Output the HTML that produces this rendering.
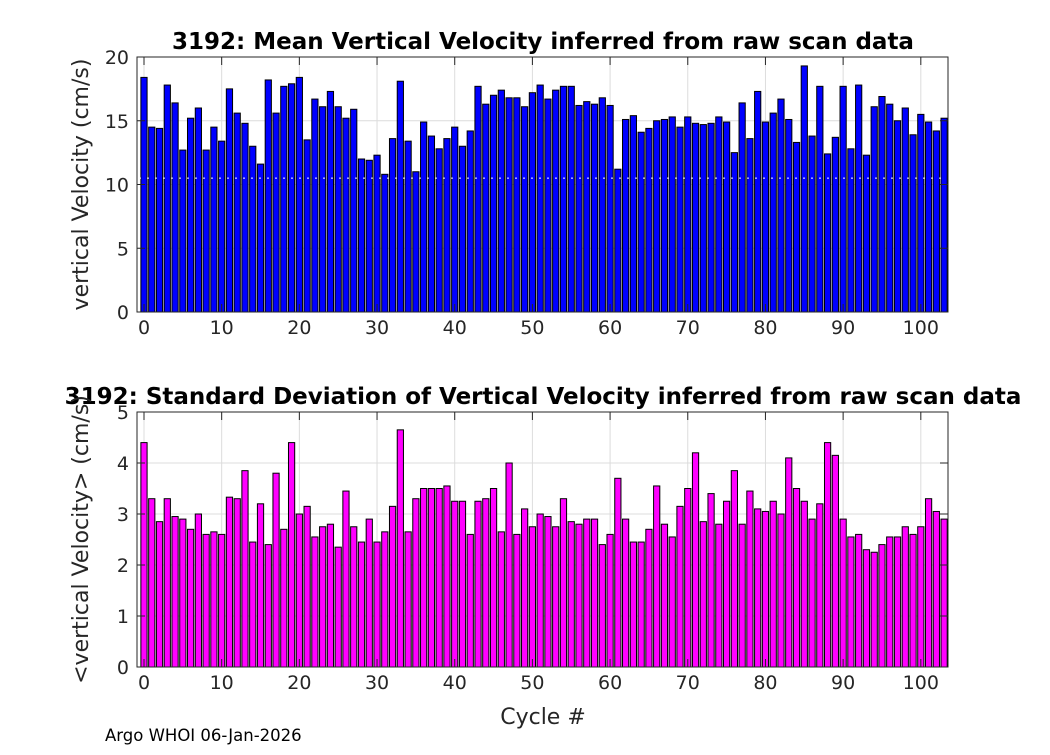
<!DOCTYPE html>
<html><head><meta charset="utf-8"><style>
body{margin:0;background:#fff;font-family:"Liberation Sans","DejaVu Sans",sans-serif}
</style></head><body>
<svg id="c" width="1050" height="750" xmlns="http://www.w3.org/2000/svg" font-family="DejaVu Sans, Liberation Sans, sans-serif"></svg>
<script>
const meanVals=[18.4,14.5,14.4,17.8,16.4,12.7,15.2,16.0,12.7,14.5,13.4,17.5,15.6,14.8,13.0,11.6,18.2,15.6,17.7,17.9,18.4,13.5,16.7,16.1,17.3,16.1,15.2,15.9,12.0,11.9,12.3,10.8,13.6,18.1,13.4,11.0,14.9,13.8,12.8,13.6,14.5,13.0,14.2,17.7,16.3,17.0,17.4,16.8,16.8,16.1,17.2,17.8,16.7,17.4,17.7,17.7,16.2,16.5,16.3,16.8,16.2,11.2,15.1,15.4,14.1,14.4,15.0,15.1,15.3,14.5,15.3,14.8,14.7,14.8,15.3,14.9,12.5,16.4,13.6,17.3,14.9,15.6,16.7,15.1,13.3,19.3,13.8,17.7,12.4,13.7,17.7,12.8,17.8,12.3,16.1,16.9,16.3,15.0,16.0,13.9,15.5,14.9,14.2,15.2];
const stdVals=[4.4,3.3,2.85,3.3,2.95,2.9,2.7,3.0,2.6,2.65,2.6,3.33,3.3,3.85,2.45,3.2,2.4,3.8,2.7,4.4,3.0,3.15,2.55,2.75,2.8,2.35,3.45,2.75,2.45,2.9,2.45,2.65,3.15,4.65,2.65,3.3,3.5,3.5,3.5,3.55,3.25,3.25,2.6,3.25,3.3,3.5,2.65,4.0,2.6,3.1,2.75,3.0,2.95,2.75,3.3,2.85,2.8,2.9,2.9,2.4,2.6,3.7,2.9,2.45,2.45,2.7,3.55,2.8,2.55,3.15,3.5,4.2,2.85,3.4,2.8,3.25,3.85,2.8,3.45,3.1,3.05,3.25,3.0,4.1,3.5,3.25,2.9,3.2,4.4,4.15,2.9,2.55,2.6,2.3,2.25,2.4,2.55,2.55,2.75,2.6,2.75,3.3,3.05,2.9];
const xTicks=[0,10,20,30,40,50,60,70,80,90,100];
const meanTicks=[0,5,10,15,20];
const stdTicks=[0,1,2,3,4,5];
const NS="http://www.w3.org/2000/svg",svg=document.getElementById('c');
function mk(t,a,p){const e=document.createElementNS(NS,t);for(const k in a)e.setAttribute(k,a[k]);(p||svg).appendChild(e);return e;}
const L=137,R=948,X0=-0.9,X1=103.5;
const xs=v=>L+(v-X0)/(X1-X0)*(R-L);
function panel(name,top,bot,ymax,vals,ticks,color,title,ylabel){
  const g=mk('g',{});
  const ys=v=>bot-v/ymax*(bot-top);
  mk('rect',{x:L,y:top,width:R-L,height:bot-top,fill:'#fff'},g);
  xTicks.forEach(t=>{const l=mk('line',{x1:xs(t),x2:xs(t),y1:top,y2:bot,stroke:'#dcdcdc','stroke-width':1},g);});
  ticks.forEach(t=>{const l=mk('line',{x1:L,x2:R,y1:ys(t),y2:ys(t),stroke:'#dcdcdc','stroke-width':1},g);});
  vals.forEach((v,i)=>{const r=mk('rect',{x:xs(i-0.4),y:ys(v),width:xs(0.8)-xs(0),height:bot-ys(v),fill:color,stroke:'#000','stroke-width':1},g);
    });
  mk('rect',{x:L,y:top,width:R-L,height:bot-top,fill:'none',stroke:'#262626','stroke-width':1},g);
  xTicks.forEach(t=>{mk('line',{x1:xs(t),x2:xs(t),y1:bot,y2:bot-8,stroke:'#262626'},g);mk('line',{x1:xs(t),x2:xs(t),y1:top,y2:top+8,stroke:'#262626'},g);
    const tx=mk('text',{x:xs(t),y:bot+22,'text-anchor':'middle','font-size':19,fill:'#262626'},g);tx.textContent=t;});
  ticks.forEach(t=>{mk('line',{x1:L,x2:L+8,y1:ys(t),y2:ys(t),stroke:'#262626'},g);mk('line',{x1:R,x2:R-8,y1:ys(t),y2:ys(t),stroke:'#262626'},g);
    const tx=mk('text',{x:L-8,y:ys(t)+7,'text-anchor':'end','font-size':19,fill:'#262626'},g);tx.textContent=t;});
  const ti=mk('text',{x:543,y:top-8,'text-anchor':'middle','font-size':23,'font-weight':'bold',fill:'#000'},g);ti.textContent=title;
  const yl=mk('text',{x:0,y:0,'text-anchor':'middle','font-size':22,fill:'#262626',transform:`translate(88,${(top+bot)/2}) rotate(-90)`},g);yl.textContent=ylabel;
  return ys;
}
const ys1=panel('mean',57,312,20,meanVals,meanTicks,'#0000ff','3192: Mean Vertical Velocity inferred from raw scan data','vertical Velocity (cm/s)');
mk('line',{x1:L+2,x2:R-2,y1:ys1(10.5),y2:ys1(10.5),stroke:'#fff','stroke-width':1,'stroke-dasharray':'2,6'});
panel('std',412,667,5,stdVals,stdTicks,'#ff00ff','3192: Standard Deviation of Vertical Velocity inferred from raw scan data','<vertical Velocity> (cm/s)');
const xl=mk('text',{x:543,y:724,'text-anchor':'middle','font-size':22,fill:'#262626'});xl.textContent='Cycle #';
const ft=mk('text',{x:105,y:741,'font-size':16.5,fill:'#000'});ft.textContent='Argo WHOI 06-Jan-2026';
</script>
</body></html>
